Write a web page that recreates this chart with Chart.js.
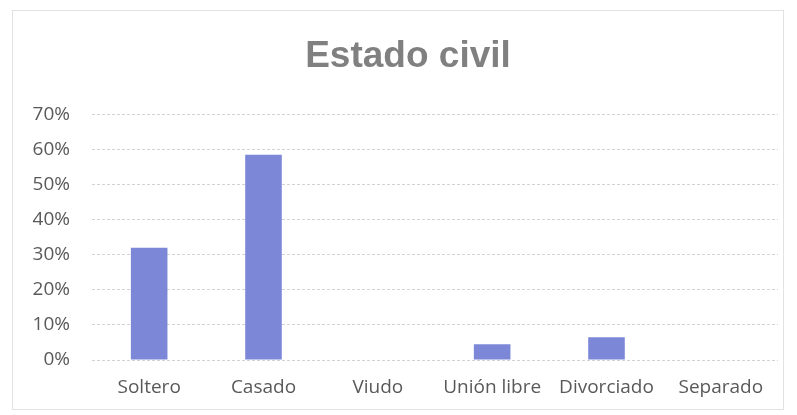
<!DOCTYPE html>
<html>
<head>
<meta charset="utf-8">
<script src="https://cdn.jsdelivr.net/npm/chart.js@4"></script>
<style>
  html, body { margin: 0; padding: 0; background: #fff; }
  #wrap { position: absolute; left: 12px; top: 10px; width: 770px; height: 398px; border: 1px solid #e2e2e2; }
</style>
</head>
<body>
<div id="wrap"></div>
<canvas id="c" width="797" height="415" style="position:absolute;left:0;top:0;width:797px;height:415px"></canvas>
<script>
const categories = ['Soltero', 'Casado', 'Viudo', 'Unión libre', 'Divorciado', 'Separado'];
const percentages = [32, 58.5, 0, 4.5, 6.5, 0];
const yTicks = [0, 10, 20, 30, 40, 50, 60, 70];

const ctx = document.getElementById('c').getContext('2d');

// the original title sits a little right of the canvas centre
const nudgeTitle = {
  id: 'nudgeTitle',
  afterLayout(chart) {
    const t = chart.titleBlock;
    if (t) { t.left += 13; t.right += 13; }
  }
};

new Chart(ctx, {
  type: 'bar',
  data: {
    labels: categories,
    datasets: [{
      label: 'Estado civil',
      data: percentages,
      backgroundColor: '#7d87d8',
      borderWidth: 0,
      categoryPercentage: 1,
      barPercentage: 0.32
    }]
  },
  options: {
    responsive: false,
    animation: false,
    layout: { padding: { left: 12, right: 19, top: 0, bottom: 0 } },
    plugins: {
      legend: { display: false },
      tooltip: { enabled: false },
      title: {
        display: true,
        text: 'Estado civil',
        color: '#808080',
        font: { family: 'Liberation Sans', size: 37, weight: 'bold' },
        padding: { top: 35, bottom: 35 }
      }
    },
    scales: {
      x: {
        grid: { display: false },
        border: { display: false },
        ticks: {
          color: '#595959',
          font: { family: 'Open Sans', size: 19 },
          padding: 8
        },
        afterFit: (axis) => { axis.height = 55; }
      },
      y: {
        min: 0,
        max: 70,
        afterBuildTicks: (axis) => { axis.ticks = yTicks.map(v => ({ value: v })); },
        grid: { color: '#d2d2d2', lineWidth: 1, drawTicks: false },
        border: { display: false, dash: [3, 2] },
        ticks: {
          color: '#595959',
          font: { family: 'Open Sans', size: 19 },
          padding: 22,
          callback: (v) => v + '%'
        },
        afterFit: (axis) => { axis.width = 80; }
      }
    }
  },
  plugins: [nudgeTitle]
});
</script>
</body>
</html>
